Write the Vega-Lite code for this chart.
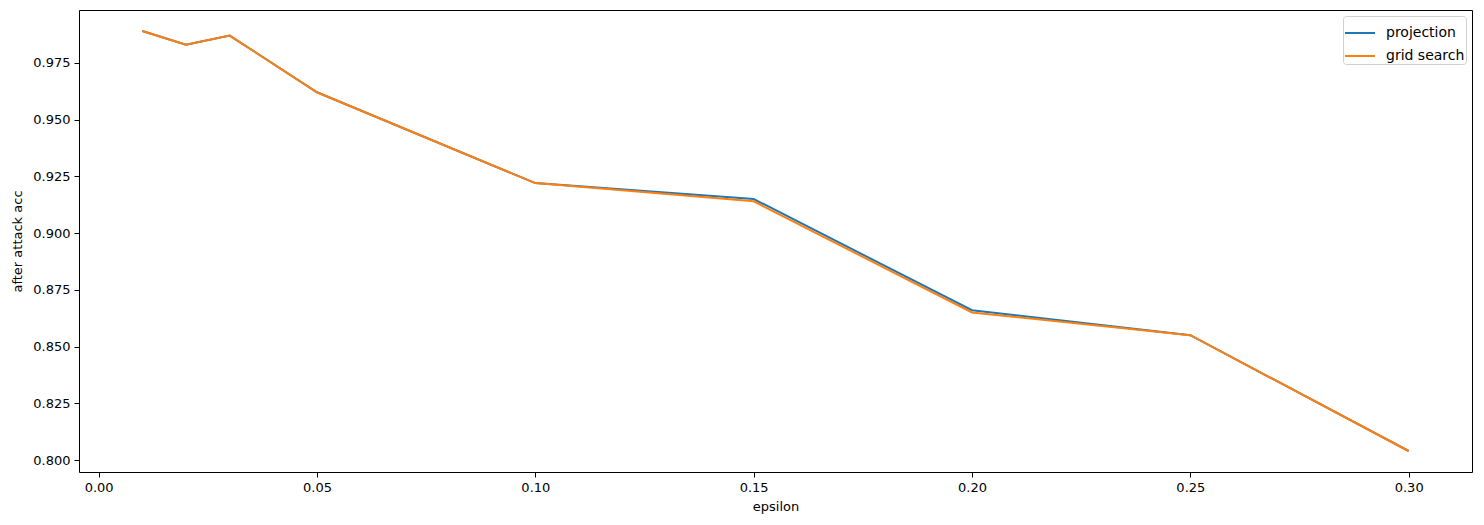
{
  "$schema": "https://vega.github.io/schema/vega-lite/v6.json",
  "autosize": "none",
  "width": 1393,
  "height": 462,
  "padding": {"left": 79, "top": 10, "right": 12, "bottom": 53},
  "background": "white",
  "config": {
    "font": "DejaVu Sans",
    "view": {"stroke": "black", "strokeWidth": 1},
    "axis": {
      "grid": false,
      "domain": false,
      "tickColor": "black",
      "tickSize": 5,
      "tickWidth": 1,
      "labelColor": "black",
      "labelFontSize": 13,
      "labelFont": "DejaVu Sans",
      "titleFont": "DejaVu Sans",
      "titleFontSize": 13,
      "titleFontWeight": "normal",
      "titleColor": "black",
      "labelPadding": 4
    },
    "legend": {
      "orient": "top-right",
      "offset": 6,
      "strokeColor": "#d0d0d0",
      "fillColor": "white",
      "cornerRadius": 3,
      "padding": 1,
      "symbolType": "stroke",
      "symbolSize": 900,
      "symbolStrokeWidth": 2,
      "labelFontSize": 14,
      "labelFont": "DejaVu Sans",
      "labelColor": "black",
      "labelOffset": 10,
      "rowPadding": -10
    }
  },
  "data": {
    "values": [
      {"epsilon": 0.01, "acc": 0.989, "method": "projection"},
      {"epsilon": 0.02, "acc": 0.983, "method": "projection"},
      {"epsilon": 0.03, "acc": 0.987, "method": "projection"},
      {"epsilon": 0.05, "acc": 0.962, "method": "projection"},
      {"epsilon": 0.10, "acc": 0.922, "method": "projection"},
      {"epsilon": 0.15, "acc": 0.915, "method": "projection"},
      {"epsilon": 0.20, "acc": 0.866, "method": "projection"},
      {"epsilon": 0.25, "acc": 0.855, "method": "projection"},
      {"epsilon": 0.30, "acc": 0.804, "method": "projection"},
      {"epsilon": 0.01, "acc": 0.989, "method": "grid search"},
      {"epsilon": 0.02, "acc": 0.983, "method": "grid search"},
      {"epsilon": 0.03, "acc": 0.987, "method": "grid search"},
      {"epsilon": 0.05, "acc": 0.962, "method": "grid search"},
      {"epsilon": 0.10, "acc": 0.922, "method": "grid search"},
      {"epsilon": 0.15, "acc": 0.914, "method": "grid search"},
      {"epsilon": 0.20, "acc": 0.865, "method": "grid search"},
      {"epsilon": 0.25, "acc": 0.855, "method": "grid search"},
      {"epsilon": 0.30, "acc": 0.804, "method": "grid search"}
    ]
  },
  "mark": {"type": "line", "strokeWidth": 2, "clip": true},
  "encoding": {
    "x": {
      "field": "epsilon",
      "type": "quantitative",
      "scale": {"domain": [-0.0045, 0.3145], "nice": false, "zero": false},
      "axis": {"values": [0, 0.05, 0.1, 0.15, 0.2, 0.25, 0.3], "format": ".2f", "title": "epsilon", "titlePadding": 6}
    },
    "y": {
      "field": "acc",
      "type": "quantitative",
      "scale": {"domain": [0.79475, 0.99825], "nice": false, "zero": false},
      "axis": {"values": [0.8, 0.825, 0.85, 0.875, 0.9, 0.925, 0.95, 0.975], "format": ".3f", "title": "after attack acc", "titlePadding": 8}
    },
    "color": {
      "field": "method",
      "type": "nominal",
      "scale": {"domain": ["projection", "grid search"], "range": ["#1f77b4", "#ff7f0e"]},
      "legend": {"title": null}
    },
    "order": {"field": "epsilon"}
  }
}
